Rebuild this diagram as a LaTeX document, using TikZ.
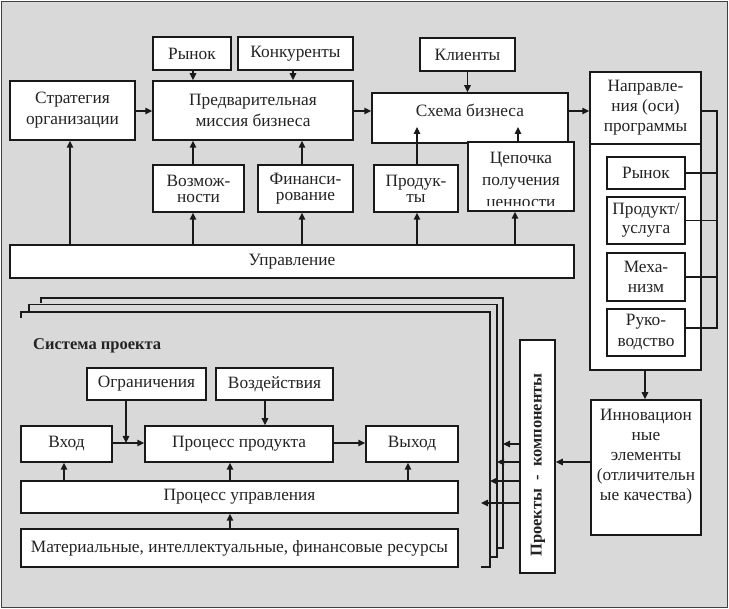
\documentclass[tikz,border=0pt]{standalone}
\usepackage{fontspec}
\setmainfont{Liberation Serif}
\usetikzlibrary{arrows.meta}
\definecolor{bgc}{RGB}{217,217,217}
\definecolor{linec}{RGB}{25,25,25}
\definecolor{textc}{RGB}{35,35,35}
\newcommand\myfs{\fontsize{17.3}{21}\selectfont}
\newcommand\mybf{\fontsize{16.5}{20}\selectfont\bfseries}
\begin{document}
\begin{tikzpicture}[x=1pt,y=-1pt,
  box/.style={draw=linec, line width=1.5pt, fill=white, inner sep=1pt, align=center, text=textc, font=\myfs},
  txt/.style={inner sep=0pt, align=center, text=textc, font=\myfs},
  arr/.style={draw=linec, line width=1.5pt, -{Triangle[length=7pt,width=6.5pt]}},
  conn/.style={draw=linec, line width=1.5pt}]
\useasboundingbox (0,0) rectangle (729,609);
\fill[white] (0,0) rectangle (729,609);
\draw[fill=bgc, draw=black!75, line width=1.5pt] (1.5,1.5) rectangle (727.5,607.5);

% ---------- top part ----------
\node[box, minimum width=78, minimum height=33] (rynok) at (192,53.5) {Рынок};
\node[box, minimum width=115, minimum height=33] (konk) at (295.5,53.5) {Конкуренты};
\node[box, minimum width=125, minimum height=59] (strat) at (72.5,110.5) {Стратегия\\организации};
\node[box, minimum width=200, minimum height=59] (predv) at (253,110.5) {Предварительная\\миссия бизнеса};
\node[box, minimum width=95, minimum height=33] (klient) at (467.5,54.5) {Клиенты};
\node[box, minimum width=196, minimum height=50] (schema) at (470,118) {};
\node[txt] (schematxt) at (470,110) {Схема бизнеса};
\node[box, minimum width=111, minimum height=72] (napr) at (645.5,108) {Направле-\\[-1pt]ния (оси)\\[-1pt]программы};
\node[box, minimum width=111, minimum height=226] (naprlow) at (645.5,257) {};
\node[box, minimum width=78, minimum height=32] (r2) at (646,173) {Рынок};
\node[box, minimum width=78, minimum height=47] (prod2) at (646,220.5) {Продукт/\\[-2pt]услуга};
\node[box, minimum width=78, minimum height=48] (mech) at (646,277) {Меха-\\[-1pt]низм};
\node[box, minimum width=78, minimum height=47] (ruk) at (646,332.5) {Руко-\\водство};
\node[box, minimum width=91, minimum height=47] (vozm) at (198.5,188.5) {Возмож-\\[-5pt]ности};
\node[box, minimum width=95, minimum height=47] (fin) at (305.5,188.5) {Финанси-\\[-5pt]рование};
\node[box, minimum width=84, minimum height=47] (produkty) at (416,188.5) {Продук-\\[-5pt]ты};
\node[box, minimum width=106, minimum height=69] (cep) at (521,176.5) {};
\begin{scope}
  \clip ([shift={(0.8pt,6pt)}]cep.south west) rectangle ([shift={(-0.8pt,-0.8pt)}]cep.north east);
  \node[txt, anchor=north] (ceptxt) at (521,151.5) {Цепочка\\[1pt]получения\\[1pt]ценности};
\end{scope}
\node[box, minimum width=564, minimum height=33] (upr) at (292,261.5) {Управление};

% top connectors
\draw[arr] (rynok.south -| 193,0) -- (predv.north -| 193,0);
\draw[arr] (konk.south -| 293,0) -- (predv.north -| 293,0);
\draw[arr] (klient.south) -- (schema.north -| klient.south);
\coordinate (hrow) at (0,111);
\draw[arr] (strat.east |- hrow) -- (predv.west |- hrow);
\draw[arr] (predv.east |- hrow) -- (schema.west |- hrow);
\draw[arr] (schema.east |- hrow) -- (napr.west |- hrow);
\draw[arr] (upr.north -| 70,0) -- (strat.south -| 70,0);
\draw[arr] (upr.north -| 193,0) -- (vozm.south -| 193,0);
\draw[arr] (vozm.north -| 193,0) -- (predv.south -| 193,0);
\draw[arr] (upr.north -| 302,0) -- (fin.south -| 302,0);
\draw[arr] (fin.north -| 302,0) -- (predv.south -| 302,0);
\draw[arr] (upr.north -| 417,0) -- (produkty.south -| 417,0);
\coordinate (tipy) at (0,127);
\draw[arr] (produkty.north -| 417,0) -- (417,0 |- tipy);
\draw[arr] (upr.north -| 515,0) -- (cep.south -| 515,0);
\draw[arr] (cep.north -| 518,0) -- (518,0 |- tipy);

% bracket on the right
\coordinate (brT) at (717,111);
\coordinate (brB) at (717,328);
\draw[conn] (napr.east |- brT) -- (brT) -- (brB) -- (ruk.east |- brB);
\draw[conn] (r2.east) -- (r2.east -| brT);
\draw[conn] (prod2.east) -- (prod2.east -| brT);
\draw[conn] (mech.east) -- (mech.east -| brT);

% innovation
\node[box, minimum width=110, minimum height=135] (innov) at (646,467.5) {};
\node[txt, anchor=north] (innovtxt) at (646,409) {Инновацион\\[-1pt]ные\\[-1pt]элементы\\[-1pt](отличительн\\[-1pt]ые качества)};
\draw[arr] (naprlow.south -| 645,0) -- (innov.north -| 645,0);

% projects box
\node[box, minimum width=35, minimum height=233] (proj) at (537.5,456.5) {};
\node[txt, rotate=90, font=\mybf] (projtxt) at (538,465) {Проекты \ - \ компоненты};
\coordinate (f1) at (503,444);
\coordinate (f2) at (497,462);
\coordinate (f3) at (490,481);
\coordinate (f4) at (481,503);
\draw[arr] (innov.west |- f2) -- (proj.east |- f2);
\draw[arr] (proj.west |- f1) -- (f1);
\draw[arr] (proj.west |- f2) -- (f2);
\draw[arr] (proj.west |- f3) -- (f3);
\draw[arr] (proj.west |- f4) -- (f4);

% stacked frames
\draw[conn] (41,303) -- (41,298) -- (503,298) -- (503,548) -- (497,548);
\draw[conn] (29,311) -- (29,304.5) -- (497,304.5) -- (497,557) -- (490,557);
\draw[conn] (21,318) -- (21,312) -- (490,312) -- (490,567) -- (481,567);

% project system
\node[txt, font=\mybf, anchor=west] (systxt) at (33,346) {Система проекта};
\node[box, minimum width=119, minimum height=32] (ogr) at (146.5,384) {Ограничения};
\node[box, minimum width=117, minimum height=32] (vozd) at (274.5,384) {Воздействия};
\node[box, minimum width=91, minimum height=36] (vhod) at (66.5,444) {Вход};
\node[box, minimum width=188, minimum height=36] (procprod) at (239,444) {Процесс продукта};
\node[box, minimum width=92, minimum height=36] (vyhod) at (412,444) {Выход};
\node[box, minimum width=437, minimum height=32] (procupr) at (239.5,497) {Процесс управления};
\node[box, minimum width=437, minimum height=38] (mat) at (239.5,548) {Материальные, интеллектуальные, финансовые ресурсы};

\draw[arr] (vhod.east |- 0,443) -- (procprod.west |- 0,443);
\draw[arr] (ogr.south -| 126,0) -- (126,443);
\draw[arr] (vozd.south -| 265,0) -- (procprod.north -| 265,0);
\draw[arr] (procprod.east |- 0,443) -- (vyhod.west |- 0,443);
\draw[arr] (procupr.north -| 64,0) -- (vhod.south -| 64,0);
\draw[arr] (procupr.north -| 230,0) -- (procprod.south -| 230,0);
\draw[arr] (procupr.north -| 408,0) -- (vyhod.south -| 408,0);
\draw[arr] (mat.north -| 230,0) -- (procupr.south -| 230,0);
\end{tikzpicture}
\end{document}
